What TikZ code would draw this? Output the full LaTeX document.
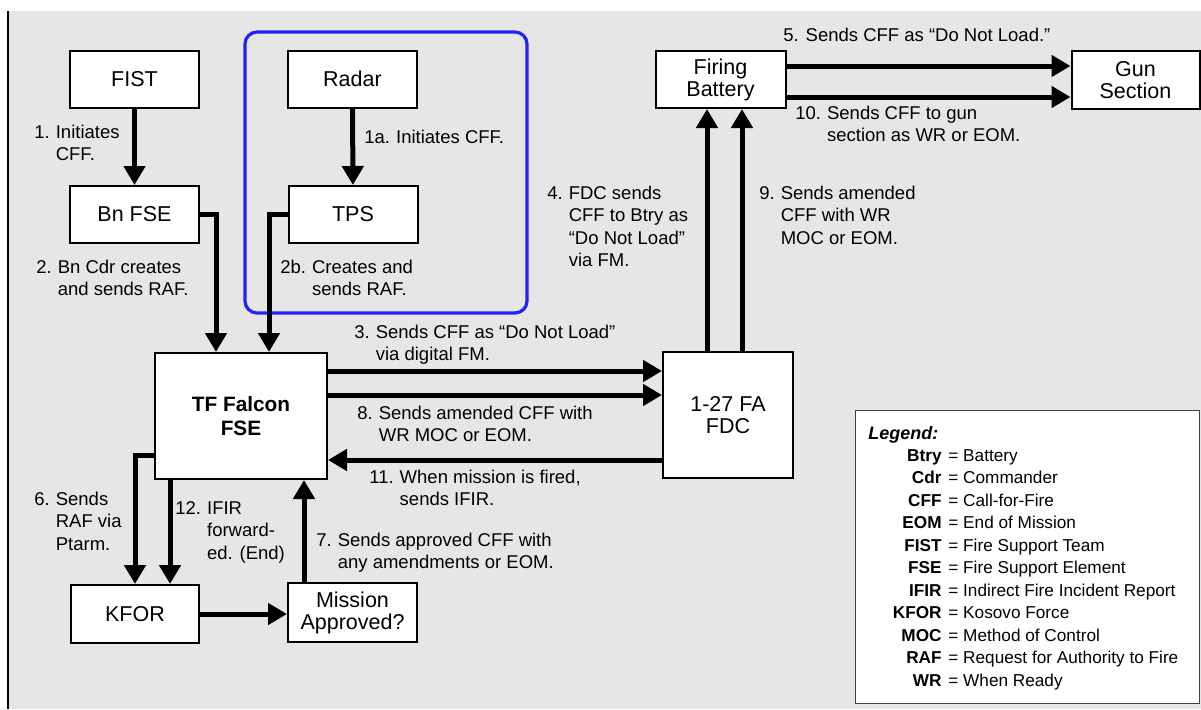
\documentclass[tikz,border=0pt]{standalone}
\usepackage{fontspec}
\setmainfont{Liberation Sans}
\usetikzlibrary{arrows.meta}
\definecolor{panelgray}{RGB}{230,230,230}
\definecolor{frameblue}{RGB}{35,35,245}
\newcommand{\steplabel}[2]{\begin{tabular}[t]{@{}l@{\hspace{3pt}}l@{}}#1 & \begin{tabular}[t]{@{}l@{}}#2\end{tabular}\end{tabular}}

\begin{document}
\begin{tikzpicture}[x = 0.5pt, y = -0.5pt,
        box/.style = {draw, fill = white, line width = 1pt, inner sep = 0pt, align = center,
            minimum width = 64.5pt, minimum height = 28.5pt, font = \fontsize{10.75}{11}\selectfont},
        flow/.style = {line width = 2.5pt, -{Triangle[length = 9.5pt, width = 10.5pt]}},
        steptext/.style = {anchor = base west, inner sep = 0pt, font = \fontsize{9.25}{11.25}\selectfont},
        legendtext/.style = {inner sep = 0pt, font = \fontsize{8.6}{10}\selectfont}]
        \useasboundingbox (0, 0) rectangle (1201, 709);
        \fill[panelgray] (8, 11) rectangle (1201, 709);
        \draw[line width = 0.6pt] (8, 11) -- (8, 709);

        \draw[frameblue, line width = 1.6pt, rounded corners = 6pt] (245, 32) rectangle (527, 313);

        \node[box] (fist) at (134.5, 79.5) {FIST};
        \node[box] (radar) at (352.5, 79) {Radar};
        \node[box] (bnfse) at (134.5, 214.5) {Bn FSE};
        \node[box] (tps) at (353, 214.5) {TPS};
        \node[box, minimum width = 86pt, minimum height = 63pt,
            font = \bfseries\fontsize{10.4}{12}\selectfont] (tf) at (241, 416) {TF Falcon\\FSE};
        \node[box, minimum width = 65pt, minimum height = 63pt] (fdc) at (728, 415) {1-27 FA\\FDC};
        \node[box, minimum width = 65pt] (fb) at (720.5, 79.5) {Firing\\Battery};
        \node[box, minimum width = 64pt, minimum height = 29pt] (gun) at (1135.5, 80) {Gun\\Section};
        \node[box, minimum width = 64pt, minimum height = 29pt] (kfor) at (135, 614) {KFOR};
        \node[box, minimum height = 29.5pt] (mission) at (352.5, 612.5) {Mission\\Approved?};

        \draw[flow] (fist) -- (bnfse);
        \draw[flow] (radar) -- (tps);
        \draw[flow] (bnfse.east) -| ([xshift = -12.5pt]tf.north);
        \draw[flow] (tps.west) -| ([xshift = 14pt]tf.north);
        \draw[flow] ([yshift = 22.5pt]tf.east) -- ([yshift = 22.5pt]tf.east -| fdc.west);
        \draw[flow] ([yshift = 10.5pt]tf.east) -- ([yshift = 10.5pt]tf.east -| fdc.west);
        \draw[flow] ([yshift = -22.5pt]fdc.west) -- ([yshift = -22.5pt]fdc.west -| tf.east);
        \draw[flow] ([xshift = -10.5pt]fdc.north) -- ([xshift = -10.5pt]fdc.north |- fb.south);
        \draw[flow] ([xshift = 7pt]fdc.north) -- ([xshift = 7pt]fdc.north |- fb.south);
        \draw[flow] ([yshift = 6.75pt]fb.east) -- ([yshift = 6.75pt]fb.east -| gun.west);
        \draw[flow] ([yshift = -8.75pt]fb.east) -- ([yshift = -8.75pt]fb.east -| gun.west);
        \draw[flow] ([yshift = -19.5pt]tf.west) -| (kfor.north);
        \draw[flow] ([xshift = -35.5pt]tf.south) -- ([xshift = -35.5pt]tf.south |- kfor.north);
        \draw[flow] ([xshift = -24.25pt]mission.north) -- ([xshift = -24.25pt]mission.north |- tf.south);
        \draw[flow] (kfor.east) -- (kfor.east -| mission.west);

        \node[steptext] (l1) at (34, 138) {\steplabel{1.}{Initiates\\CFF.}};
        \node[steptext] (l1a) at (364, 143) {\steplabel{1a.}{Initiates CFF.}};
        \node[steptext] (l2) at (36, 273) {\steplabel{2.}{Bn Cdr creates\\and sends RAF.}};
        \node[steptext] (l2b) at (280, 273) {\steplabel{2b.}{Creates and\\sends RAF.}};
        \node[steptext] (l3) at (354, 338) {\steplabel{3.}{Sends CFF as “Do Not Load”\\via digital FM.}};
        \node[steptext] (l4) at (547, 199) {\steplabel{4.}{FDC sends\\CFF to Btry as\\“Do Not Load”\\via FM.}};
        \node[steptext] (l5) at (783, 41) {5. Sends CFF as “Do Not Load.”};
        \node[steptext] (l6) at (34, 505) {\steplabel{6.}{Sends\\RAF via\\Ptarm.}};
        \node[steptext] (l7) at (316, 546) {\steplabel{7.}{Sends approved CFF with\\any amendments or EOM.}};
        \node[steptext] (l8) at (357, 419) {\steplabel{8.}{Sends amended CFF with\\WR MOC or EOM.}};
        \node[steptext] (l9) at (759, 199) {\steplabel{9.}{Sends amended\\CFF with WR\\MOC or EOM.}};
        \node[steptext] (l10) at (795, 119) {\steplabel{10.}{Sends CFF to gun\\section as WR or EOM.}};
        \node[steptext] (l11) at (369, 483) {\steplabel{11.}{When mission is fired,\\sends IFIR.}};
        \node[steptext] (l12) at (175, 514) {\steplabel{12.}{IFIR\\forward-\\ed. (End)}};

        \node[draw = black!75, fill = white, line width = 0.5pt, inner sep = 0pt,
            minimum width = 172pt, minimum height = 146.5pt] (legend) at (1027, 556.5) {};
        \node[legendtext, anchor = base west, font = \bfseries\itshape\fontsize{9}{10}\selectfont]
            (legendtitle) at (868, 439) {Legend:};
        \foreach \abbr/\full [count = \i] in {Btry/Battery, Cdr/Commander, CFF/Call-for-Fire,
            EOM/End of Mission, FIST/Fire Support Team, FSE/Fire Support Element,
            IFIR/Indirect Fire Incident Report, KFOR/Kosovo Force, MOC/Method of Control,
            RAF/Request for Authority to Fire, WR/When Ready}
        {
            \node[legendtext, anchor = base east] (abbr\i) at (942, 438.5 + 22.5*\i) {\textbf{\abbr}};
            \node[legendtext, anchor = base west] (full\i) at (948, 438.5 + 22.5*\i) {= \full};
        }
    \end{tikzpicture}
\end{document}
